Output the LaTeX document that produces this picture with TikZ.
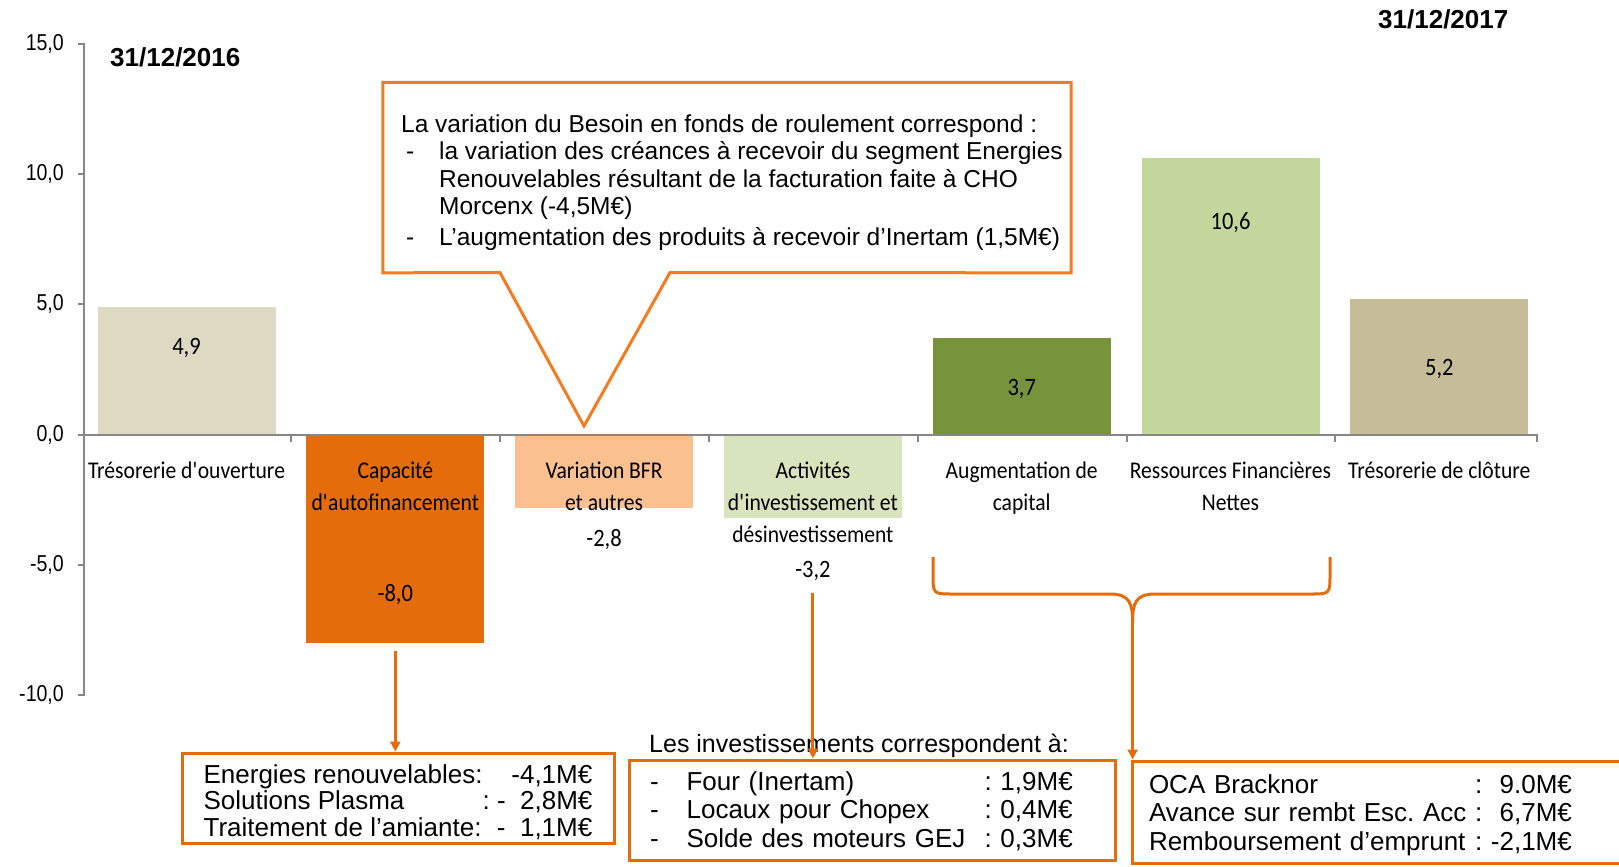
\documentclass[tikz,border=0pt]{standalone}
\usepackage{fontspec}
\setmainfont{Carlito}
\newfontfamily\catfont[FakeStretch=0.9]{Carlito}
\newfontfamily\arialfont{Liberation Sans}
\newfontfamily\narrowfont[FakeStretch=0.85]{Liberation Sans}
\usetikzlibrary{arrows.meta}
\definecolor{axisgray}{HTML}{878787}
\definecolor{ouvcol}{HTML}{DDD9C3}
\definecolor{cafcol}{HTML}{E46C0A}
\definecolor{bfrcol}{HTML}{FAC090}
\definecolor{actcol}{HTML}{D7E4BD}
\definecolor{augcol}{HTML}{77933C}
\definecolor{rescol}{HTML}{C3D69B}
\definecolor{clocol}{HTML}{C4BD97}
\definecolor{boxorange}{HTML}{E46C0A}
\definecolor{noteorange}{HTML}{F47B20}
\frenchspacing

\begin{document}
\begin{tikzpicture}[x=1pt,y=-1pt,
  axisline/.style={draw=axisgray,line width=2pt},
  bar/.style={inner sep=0pt,minimum width=178pt},
  catlabel/.style={anchor=north,align=center,inner sep=0pt,font=\catfont\fontsize{24}{32}\selectfont},
  vallabel/.style={inner sep=0pt,font=\catfont\fontsize{25}{28}\selectfont},
  ticklabel/.style={anchor=east,inner sep=0pt,font=\narrowfont\fontsize{23}{26}\selectfont},
  datelabel/.style={anchor=west,inner sep=0pt,font=\arialfont\bfseries\fontsize{26}{30}\selectfont},
  infobox/.style={draw=boxorange,line width=3pt,inner sep=0pt,font=\arialfont\fontsize{26}{28.5}\selectfont},
  link/.style={draw=boxorange,line width=3pt},
  linkarrow/.style={link,-{Triangle[length=10pt,width=10pt]}}]
\useasboundingbox (0,0) rectangle (1619,867);
\clip (0,0) rectangle (1619,867);

\node[bar,anchor=south,fill=ouvcol,minimum height=127.7pt] (ouvbar) at (186.5,434.7) {};
\node[bar,anchor=north,fill=cafcol,minimum height=208.5pt] (cafbar) at (395.3,434.7) {};
\node[bar,anchor=north,fill=bfrcol,minimum height=73pt] (bfrbar) at (604.1,434.7) {};
\node[bar,anchor=north,fill=actcol,minimum height=83.4pt] (actbar) at (812.9,434.7) {};
\node[bar,anchor=south,fill=augcol,minimum height=96.4pt] (augbar) at (1021.7,434.7) {};
\node[bar,anchor=south,fill=rescol,minimum height=276.2pt] (resbar) at (1230.5,434.7) {};
\node[bar,anchor=south,fill=clocol,minimum height=135.5pt] (clobar) at (1439.3,434.7) {};

\draw[axisline] (83.6,43.4) -- (83.6,695.6);
\draw[axisline] (83.6,434.7) -- (1537,434.7) -- ++(0,7);
\foreach \i in {1,...,6}
  \draw[axisline] ({82.5+208.8*\i},434.7) -- ++(0,7);
\foreach \v/\t in {15/{15,0},10/{10,0},5/{5,0},0/{0,0},-5/{-5,0},-10/{-10,0}}{
  \draw[axisline] (77.6,{434.7-26.06*(\v)}) -- (83.6,{434.7-26.06*(\v)});
  \node[ticklabel] (tick\v) at (64,{434.7-26.06*(\v)}) {\t};
}

\node[vallabel] (ouvval) at (186.5,348) {4,9};
\node[vallabel] (cafval) at (395.3,595) {-8,0};
\node[vallabel] (bfrval) at (604.1,540) {-2,8};
\node[vallabel] (actval) at (812.9,571) {-3,2};
\node[vallabel] (augval) at (1021.7,389) {3,7};
\node[vallabel] (resval) at (1230.5,223) {10,6};
\node[vallabel] (cloval) at (1439.3,368.6) {5,2};

\node[catlabel] (ouvcat) at (186.5,456.3) {\strut Trésorerie d\textquotesingle ouverture};
\node[catlabel] (cafcat) at (395.3,456.3) {\strut Capacité\\d\textquotesingle autofinancement};
\node[catlabel] (bfrcat) at (604.1,456.3) {\strut Variation BFR\\et autres};
\node[catlabel] (actcat) at (812.9,456.3) {\strut Activités\\d\textquotesingle investissement et\\désinvestissement};
\node[catlabel] (augcat) at (1021.7,456.3) {\strut Augmentation de\\capital};
\node[catlabel] (rescat) at (1230.5,456.3) {\strut Ressources Financières\\Nettes};
\node[catlabel] (clocat) at (1439.3,456.3) {\strut Trésorerie de clôture};

\node[datelabel] (startdate) at (110,57) {31/12/2016};
\node[datelabel] (enddate) at (1378,19.6) {31/12/2017};

\node[inner sep=0pt,minimum width=688pt,minimum height=190pt,font=\arialfont\fontsize{24.5}{27.5}\selectfont] (bfrnote) at (727,177.6) {%
\begin{tabular}{@{\hspace{10pt}}p{38pt}@{}l@{}}
\multicolumn{2}{@{\hspace{10pt}}l@{}}{\rule{0pt}{31pt}La variation du Besoin en fonds de roulement correspond :}\\
\hspace{5pt}- & la variation des créances à recevoir du segment Energies\\
 & Renouvelables résultant de la facturation faite à CHO\\
 & Morcenx (-4,5M€)\\[3pt]
\hspace{5pt}- & L’augmentation des produits à recevoir d’Inertam (1,5M€)
\end{tabular}};
\coordinate (bfrtip) at (584,426);
\draw[draw=noteorange,line width=3pt,line join=miter] (bfrnote.north west) -- (bfrnote.north east) -- (bfrnote.south east) -- (670,272.6) -- (bfrtip) -- (500,272.6) -- (bfrnote.south west) -- cycle;

\node[infobox,minimum width=432pt,minimum height=79pt,font=\arialfont\fontsize{26}{25.8}\selectfont] (cafbox) at (398,798.5) {%
\begin{tabular}{@{}l@{}r@{}}
\rule{0pt}{30pt}Energies renouvelables: & -4,1M€\\
Solutions Plasma & : -\ \ 2,8M€\\
Traitement de l’amiante: & -\ \ 1,1M€
\end{tabular}};

\node[anchor=west,inner sep=0pt,font=\arialfont\fontsize{25}{28}\selectfont] (invhead) at (649,745.5) {Les investissements correspondent à:};
\node[infobox,minimum width=486pt,minimum height=100pt,text width=444pt,inner xsep=21pt,align=left] (invbox) at (872,810) {%
\begin{tabular}{@{}p{36.6pt}@{}p{298pt}@{}l@{}}
\rule{0pt}{26pt}- & Four (Inertam) & : 1,9M€\\
- & Locaux pour Chopex & : 0,4M€\\
- & Solde des moteurs GEJ & : 0,3M€
\end{tabular}};

\node[infobox,minimum width=493pt,minimum height=102pt,text width=459pt,inner xsep=17pt,align=left] (finbox) at (1378.5,812) {%
\begin{tabular}{@{}l@{}r@{}}
\rule{0pt}{28pt}OCA Bracknor & :\ \ 9.0M€\\
Avance sur rembt Esc. Acc & \ :\ \ 6,7M€\\
Remboursement d’emprunt & \ : -2,1M€
\end{tabular}};

\draw[linkarrow,shorten <=7pt] (cafbar.south) -- (cafbar.south |- cafbox.north);
\draw[linkarrow,shorten <=12pt] (actval.south) -- (actval.south |- invbox.north);

\coordinate (bracel) at (933,557);
\coordinate (bracer) at (1330,557);
\coordinate (bracetip) at (1132.6,622);
\draw[link] (bracel) -- (933,574) .. controls (933,594) .. (953,594) -- (1110,594) .. controls (1130,594) and (1132.6,604) .. (bracetip);
\draw[link] (bracer) -- (1330,574) .. controls (1330,594) .. (1310,594) -- (1155,594) .. controls (1135,594) and (1132.6,604) .. (bracetip);
\draw[linkarrow] (bracetip) -- (bracetip |- finbox.north);
\end{tikzpicture}
\end{document}
